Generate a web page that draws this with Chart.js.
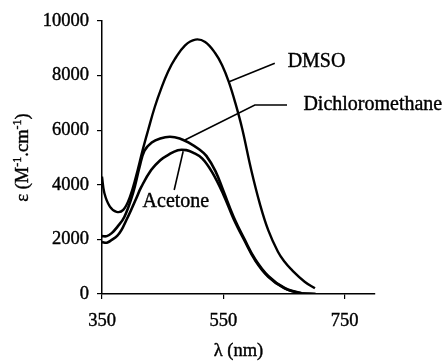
<!DOCTYPE html>
<html>
<head>
<meta charset="utf-8">
<script src="https://cdn.jsdelivr.net/npm/chart.js@4"></script>
<style>
  body { margin: 0; background: #fff; }
  canvas { display: block; }
</style>
</head>
<body>
<canvas id="graph" width="446" height="364"></canvas>
<script>
// wavelengths (nm) and molar absorptivity
const dmsoWl = [350, 354, 363, 374, 385, 396, 406, 417, 426, 437, 448, 459, 470, 487, 504, 520, 537, 548, 559, 570, 581, 596, 610, 624, 640, 651, 662, 684, 701];
const dmsoEps = [4300, 3690, 3200, 3010, 3080, 3560, 4300, 5270, 6000, 6850, 7550, 8150, 8600, 9110, 9320, 9230, 8810, 8380, 7770, 6980, 6060, 4540, 3320, 2340, 1550, 1180, 900, 450, 210];

const dcmWl = [350, 358, 366, 375, 387, 401, 412, 420, 432, 446, 462, 478, 495, 510, 522, 537, 550, 567, 585, 602, 624, 651, 679, 702];
const dcmEps = [2120, 2120, 2230, 2450, 2830, 3690, 4660, 5250, 5550, 5700, 5760, 5700, 5520, 5300, 5060, 4500, 3780, 2820, 2000, 1290, 660, 220, 30, 0];

const acetoneWl = [350, 358, 366, 375, 382, 390, 398, 406, 415, 431, 446, 458, 475, 489, 500, 515, 531, 550, 567, 585, 602, 624, 651, 679, 702];
const acetoneEps = [1900, 1880, 1980, 2130, 2340, 2700, 3080, 3480, 3930, 4540, 4900, 5080, 5270, 5270, 5180, 4970, 4480, 3650, 2750, 1950, 1250, 634, 209, 26, 0];

const xTicks = [350, 550, 750];

// leader labels, in data units: [curve point, elbow, end], text anchor
const labels = [
  { text: 'DMSO', line: [[559.5, 7777], [634.8, 8450]], at: [656, 8500], align: 'left' },
  { text: 'Dichloromethane', line: [[486.6, 5641], [601.9, 6923], [655, 6923]], at: [682, 6923], align: 'left' },
  { text: 'Acetone', line: [[483.8, 5230], [469, 3810]], at: [471.8, 3370], align: 'center' },
];

const toPoints = (xs, ys) => xs.map((x, i) => ({ x, y: ys[i] }));
const serif = 'Liberation Serif, Times New Roman, serif';

function inkText(ctx, t, x, y) {
  ctx.fillText(t, x, y);
  ctx.strokeText(t, x, y);
}

const annotations = {
  id: 'annotations',
  afterDatasetsDraw(chart) {
    const { ctx, scales: { x, y }, chartArea } = chart;
    ctx.save();
    ctx.strokeStyle = '#000';
    ctx.fillStyle = '#000';
    ctx.font = '20px ' + serif;
    ctx.textBaseline = 'middle';
    labels.forEach(l => {
      ctx.lineWidth = 1.6;
      ctx.beginPath();
      l.line.forEach((p, i) => {
        const px = x.getPixelForValue(p[0]);
        const py = y.getPixelForValue(p[1]);
        if (i === 0) ctx.moveTo(px, py); else ctx.lineTo(px, py);
      });
      ctx.stroke();
      ctx.textAlign = l.align;
      ctx.lineWidth = 0.4;
      inkText(ctx, l.text, x.getPixelForValue(l.at[0]), y.getPixelForValue(l.at[1]));
    });

    // x axis title
    ctx.font = '18.5px ' + serif;
    ctx.textAlign = 'center';
    inkText(ctx, 'λ (nm)', (chartArea.left + chartArea.right) / 2, 351);

    // y axis title with superscripts
    const parts = [['ε (M', false], ['-1', true], ['.cm', false], ['-1', true], [')', false]];
    const big = '18.5px ' + serif, small = '12px ' + serif;
    let w = 0;
    parts.forEach(([t, sup]) => { ctx.font = sup ? small : big; w += ctx.measureText(t).width; });
    ctx.translate(22, (chartArea.top + chartArea.bottom) / 2);
    ctx.rotate(-Math.PI / 2);
    ctx.textAlign = 'left';
    ctx.textBaseline = 'alphabetic';
    let cx = -w / 2;
    parts.forEach(([t, sup]) => {
      ctx.font = sup ? small : big;
      inkText(ctx, t, cx, sup ? -1 : 6);
      cx += ctx.measureText(t).width;
    });
    ctx.restore();
  }
};

const line = (label, pts, width) => ({
  label,
  data: pts,
  borderColor: '#000',
  borderWidth: width,
  pointRadius: 0,
  fill: false,
  tension: 0.4,
});

const tickFont = { family: serif, size: 18.5 };

new Chart(document.getElementById('graph'), {
  type: 'line',
  data: {
    datasets: [
      line('DMSO', toPoints(dmsoWl, dmsoEps), 2.4),
      line('Dichloromethane', toPoints(dcmWl, dcmEps), 2.6),
      line('Acetone', toPoints(acetoneWl, acetoneEps), 2.6),
    ],
  },
  options: {
    responsive: false,
    devicePixelRatio: 1,
    animation: false,
    layout: { padding: { left: 0, top: 21, right: 71, bottom: 0 } },
    plugins: { legend: { display: false }, tooltip: { enabled: false } },
    scales: {
      x: {
        type: 'linear',
        min: 350,
        max: 800,
        afterBuildTicks: s => { s.ticks = xTicks.map(v => ({ value: v })); },
        afterFit: s => { s.height = 70; },
        grid: { drawOnChartArea: false, drawTicks: true, tickLength: 5, color: '#000', lineWidth: 1.2 },
        border: { color: '#000', width: 1.5 },
        ticks: { color: '#000', font: tickFont, padding: 11, maxRotation: 0, textStrokeColor: '#000', textStrokeWidth: 0.4, callback: v => String(v) },
      },
      y: {
        min: 0,
        max: 10000,
        afterFit: s => { s.width = 102; },
        grid: { drawOnChartArea: false, drawTicks: true, tickLength: 5, color: '#000', lineWidth: 1.2 },
        border: { color: '#000', width: 1.5 },
        ticks: { stepSize: 2000, color: '#000', font: tickFont, padding: 8, textStrokeColor: '#000', textStrokeWidth: 0.4, callback: v => String(v) },
      },
    },
  },
  plugins: [annotations],
});
</script>
</body>
</html>
